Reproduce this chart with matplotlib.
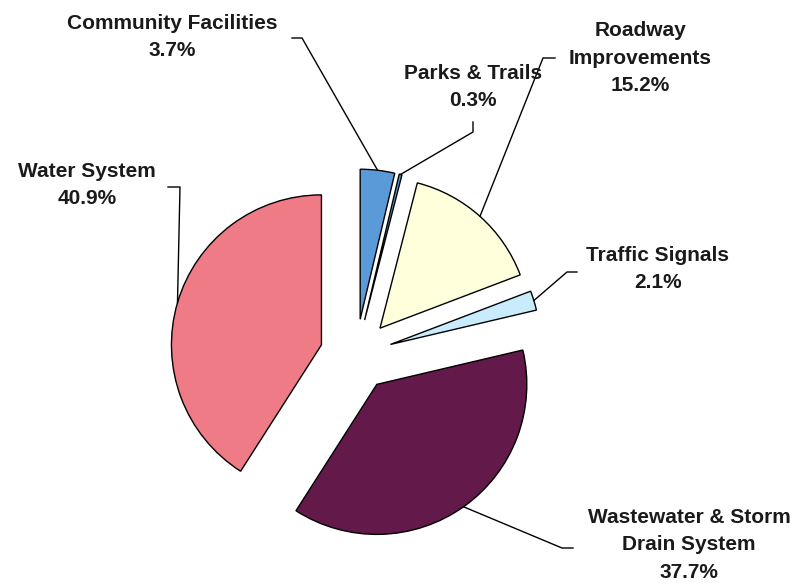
import matplotlib
matplotlib.use("Agg")
import matplotlib.pyplot as plt
import numpy as np

labels = ["Community Facilities", "Parks & Trails", "Roadway\nImprovements",
          "Traffic Signals", "Wastewater & Storm\nDrain System", "Water System"]
shares = [3.7, 0.3, 15.2, 2.1, 37.7, 40.9]
pct_text = ["3.7%", "0.3%", "15.2%", "2.1%", "37.7%", "40.9%"]
colors = ["#5b9ad8", "#5b9ad8", "#ffffdc", "#c8ecfb", "#63194a", "#ef7b86"]

# pixel helpers: pie centre sits at (356, 355) px, radius 150 px
CX, CY, R = 356, 355, 150
def px(x, y):
    return (x - CX) / R, (CY - y) / R

# label block centres (px) and leader elbow / end points (px)
label_pos = [(172, 37), (473, 87), (640, 58), (658, 269), (689, 545), (87, 185)]
elbows = [(302, 38), (473, 132), (543, 58), (567, 272), (562, 548), (180, 187)]
ends = [(292, 38), (473, 122), (555, 58), (577, 272), (573, 548), (168, 187)]

fig = plt.figure(figsize=(8.06, 5.88), dpi=100)
ax = fig.add_axes([0, 0, 1, 1])

wedges, _ = ax.pie(shares, colors=colors, startangle=90, counterclock=False,
                   explode=[0.24] * 6, radius=1,
                   wedgeprops=dict(edgecolor="black", linewidth=1.0))
ax.set_xlim(-CX / R, (806 - CX) / R)
ax.set_ylim(-(588 - CY) / R, CY / R)
ax.set_aspect("equal")
ax.axis("off")

for i, w in enumerate(wedges):
    mid = np.deg2rad((w.theta1 + w.theta2) / 2)
    cx, cy = w.center
    sx, sy = cx + np.cos(mid), cy + np.sin(mid)
    ex, ey = px(*elbows[i])
    tx, ty = px(*ends[i])
    ax.plot([sx, ex, tx], [sy, ey, ty], color="black", lw=1.0)
    lx, ly = px(*label_pos[i])
    ax.text(lx, ly, labels[i] + "\n" + pct_text[i], ha="center", va="center",
            fontsize=15, fontweight="bold", family="Liberation Sans",
            linespacing=1.55, color="#1a1a1a")

fig.savefig("out.png", dpi=100)
